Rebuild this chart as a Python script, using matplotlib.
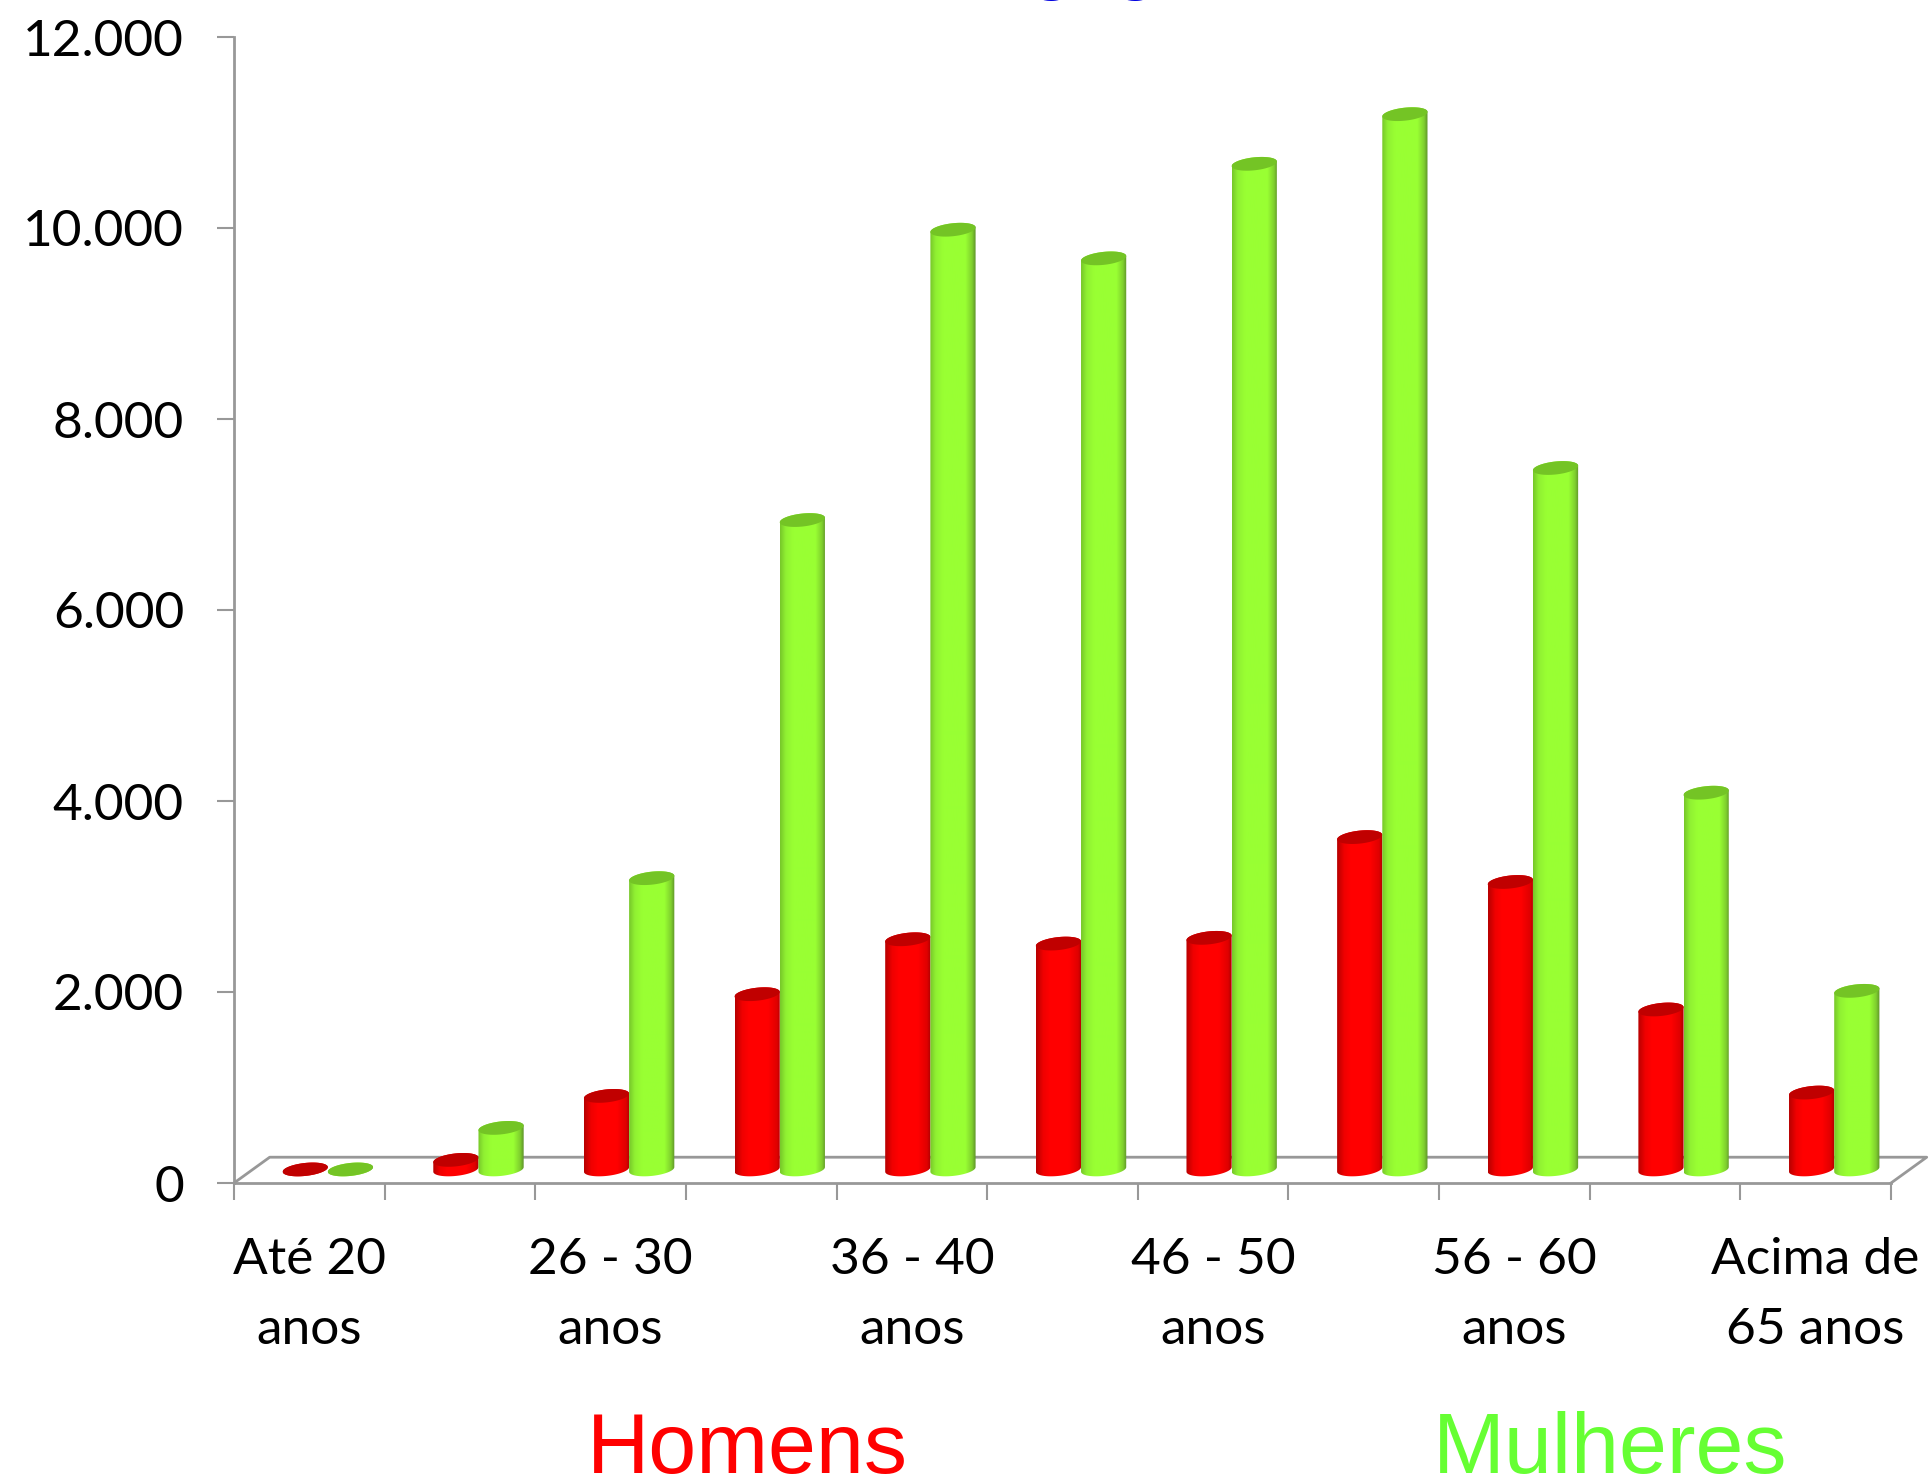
import numpy as np
import matplotlib
matplotlib.use("Agg")
import matplotlib.pyplot as plt
from matplotlib.colors import LinearSegmentedColormap
from matplotlib.patches import Polygon

# Values
categorias = ["Até 20\nanos", "21 - 25\nanos", "26 - 30\nanos", "31 - 35\nanos",
              "36 - 40\nanos", "41 - 45\nanos", "46 - 50\nanos", "51 - 55\nanos",
              "56 - 60\nanos", "61 - 65\nanos", "Acima de\n65 anos"]
homens = [0, 100, 770, 1835, 2410, 2365, 2425, 3480, 3010, 1675, 805]
mulheres = [0, 435, 3050, 6800, 9840, 9540, 10530, 11050, 7345, 3945, 1870]
y_ticks = [0, 2000, 4000, 6000, 8000, 10000, 12000]
y_labels = ["0", "2.000", "4.000", "6.000", "8.000", "10.000", "12.000"]

W, H = 1930, 1479
AXIS = "#989898"

# 3D look of the floor and cylinders, in data units
DEPTH_X, DEPTH_Y = 0.237, 270
BASE = 142
BAR_W = 0.30
RX, RY, TILT = BAR_W / 2, 68, 24

plt.rcParams["font.family"] = ["Lato", "DejaVu Sans"]

fig = plt.figure(figsize=(W / 100, H / 100), dpi=100)
ax = fig.add_axes([234 / W, 1 - 1183 / H, (1891 - 234) / W, (1183 - 37) / H])


def ellipse(cx, cy, t):
    return cx + RX * np.cos(t), cy + RY * np.sin(t) + TILT * np.cos(t)


def cylinder(cx, value, cmap, top_color):
    top = BASE + value
    x_low, y_low = ellipse(cx, BASE, np.linspace(np.pi, 2 * np.pi, 40))
    x_up, y_up = ellipse(cx, top, np.linspace(0, np.pi, 40))
    verts = np.column_stack([np.r_[x_low, x_up], np.r_[y_low, y_up]])
    body = Polygon(verts, closed=True, facecolor="none", edgecolor="none", transform=ax.transData)
    ax.add_patch(body)
    grad = np.linspace(0, 1, 64).reshape(1, -1)
    im = ax.imshow(grad, cmap=cmap, aspect="auto", interpolation="bilinear", zorder=3 + cx * 0.01,
                   extent=[cx - RX, cx + RX, BASE - RY - TILT, top + RY + TILT])
    im.set_clip_path(body)
    xe, ye = ellipse(cx, top, np.linspace(0, 2 * np.pi, 80))
    ax.fill(xe, ye, color=top_color, lw=0, zorder=3 + cx * 0.01 + 0.001)


cmap_red = LinearSegmentedColormap.from_list("red", [(0, "#B80000"), (0.15, "#F00000"), (0.3, "#FF0000"),
                                                    (0.72, "#FF0000"), (0.92, "#E00000"), (1, "#B00000")])
cmap_green = LinearSegmentedColormap.from_list("green", [(0, "#78C82A"), (0.12, "#90F032"), (0.28, "#99FF33"),
                                                        (0.78, "#99FF33"), (0.92, "#80D02E"), (1, "#60962B")])

# floor
ax.plot([0, DEPTH_X, 11 + DEPTH_X, 11], [0, DEPTH_Y, DEPTH_Y, 0], color=AXIS, lw=2, clip_on=False, zorder=1)

for i in range(len(categorias)):
    center = i + 0.623
    cylinder(center - BAR_W / 2, homens[i], cmap_red, "#C00000")
    cylinder(center + BAR_W / 2, mulheres[i], cmap_green, "#74C425")

ax.set_xlim(0, 11)
ax.set_ylim(0, 12000)

for s in ["top", "right"]:
    ax.spines[s].set_visible(False)
for s in ["left", "bottom"]:
    ax.spines[s].set_color(AXIS)
    ax.spines[s].set_linewidth(2)

ax.set_yticks(y_ticks)
ax.set_yticklabels(y_labels, fontsize=37)
ax.tick_params(axis="y", length=12, width=1.5, color=AXIS, pad=24)

# only every other category gets a label, as in the original
ax.set_xticks(np.arange(12))
ax.set_xticklabels([])
ax.set_xticks(np.arange(0.5, 11, 2), labels=categorias[::2], minor=True, fontsize=37, linespacing=1.64)
ax.tick_params(axis="x", which="major", length=12, width=1.5, color=AXIS)
ax.tick_params(axis="x", which="minor", length=0, pad=39)

fig.text(747 / W, 1 - 1473 / H, "Homens", color="#FF0000", fontsize=62, family="Liberation Sans",
         ha="center", va="baseline")
fig.text(1610 / W, 1 - 1473 / H, "Mulheres", color="#66FF33", fontsize=62, family="Liberation Sans",
         ha="center", va="baseline")

# title is cropped in the original, only the bottom of two g's is left
for x_g in [1051, 1135]:
    fig.text(x_g / W, 1 + 17 / H, "g", color="#0000E0", fontsize=62, family="Liberation Sans",
             ha="center", va="baseline")

fig.savefig("out.png", dpi=100)
